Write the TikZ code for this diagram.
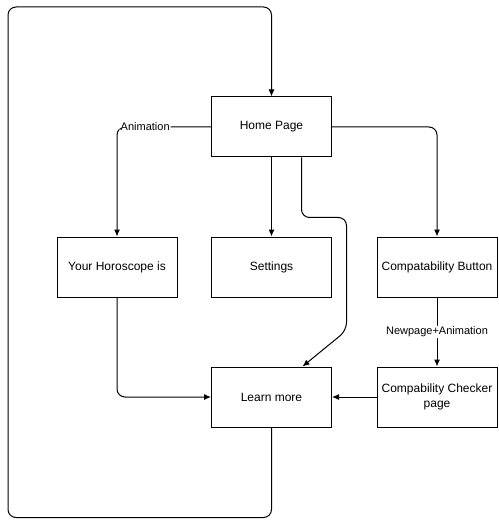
\documentclass[tikz,border=0pt]{standalone}
\usepackage{fontspec}
\setmainfont{Liberation Sans}
\usetikzlibrary{arrows.meta}

\begin{document}
\begin{tikzpicture}[x=1pt, y=-1pt, line width=1pt,
    box/.style={rectangle, draw, minimum width=120pt, minimum height=60pt,
      align=center, font=\fontsize{12}{15}\selectfont},
    arr/.style={-{Latex[length=7pt, width=6pt]}, rounded corners=8pt},
    lbl/.style={fill=white, inner sep=1pt, font=\fontsize{11}{13}\selectfont}]
  \useasboundingbox (0,0) rectangle (498,526);

  % Nodes
  \node[box] (home) at (271.5,127) {Home Page};
  \node[box] (horo) at (117,267) {Your Horoscope is};
  \node[box] (settings) at (271.5,267) {Settings};
  \node[box] (compbtn) at (437,267) {Compatability Button};
  \node[box] (learn) at (271.5,397) {Learn more};
  \node[box] (checker) at (437,397) {Compability Checker\\page};

  % Edges
  \draw[arr] (home.west) -| node[lbl, pos=0.35] {Animation} (horo.north);
  \draw[arr] (home.south) -- (settings.north);
  \draw[arr] (home.east) -| (compbtn.north);
  \draw[arr] ([xshift=30pt]home.south) -- ++(0,60) -- ++(45,0) -- ++(0,113)
    -- ([xshift=31pt]learn.north);
  \draw[arr] (horo.south) |- (learn.west);
  \draw[arr] (compbtn.south) -- node[lbl] {Newpage+Animation} (checker.north);
  \draw[arr] (checker.west) -- (learn.east);

  % Loop back to home page
  \draw[arr] (learn.south) -- ++(0,90) -| (8,7) -| (home.north);
\end{tikzpicture}
\end{document}
